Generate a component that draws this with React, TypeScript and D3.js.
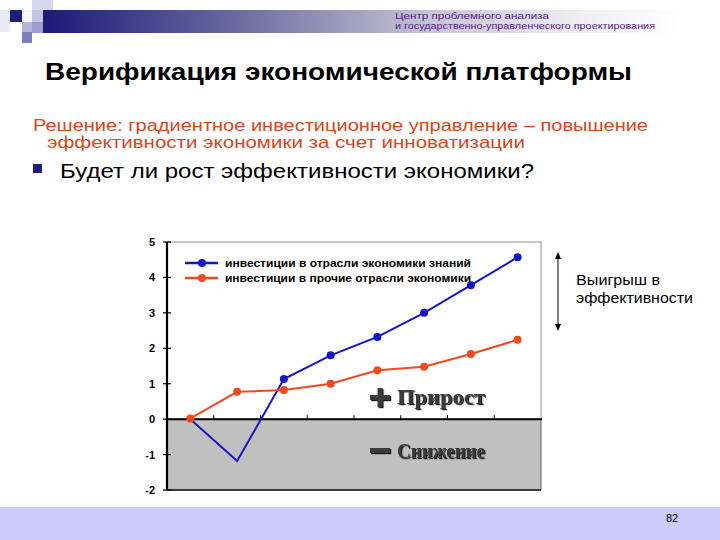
import React from "react";
import * as d3 from "d3";

// periods on the x axis (no labels shown on the slide)
const periods = ["1", "2", "3", "4", "5", "6", "7", "8"];
const knowledgeSeries = [0, -1.18, 1.13, 1.8, 2.32, 3.0, 3.78, 4.57];
const otherSeries = [0.02, 0.77, 0.82, 1.0, 1.38, 1.48, 1.84, 2.24];
const yTicks = [5, 4, 3, 2, 1, 0, -1, -2];
const seriesNames = [
  "инвестиции в отрасли экономики знаний",
  "инвестиции в прочие отрасли экономики",
];
const seriesColors = ["#1414c8", "#ee4a1e"];

const W = 720;
const H = 540;

export default function App() {
  const x = d3.scaleBand().domain(periods).range([167, 541]);
  const y = d3.scaleLinear().domain([-2, 5]).range([490, 242]);
  const line = d3
    .line<number>()
    .x((d, i) => x(periods[i])! + x.bandwidth() / 2)
    .y((d) => y(d));
  const all = [knowledgeSeries, otherSeries];
  const sans = "'Liberation Sans', Arial, sans-serif";
  const narrow = "'Liberation Sans Narrow', 'Liberation Sans', sans-serif";
  const serif = "'Liberation Serif', 'Times New Roman', serif";

  return (
    <svg
      width={W}
      height={H}
      style={{ position: "absolute", left: 0, top: 0, background: "#fff" }}
    >
      <defs>
        <linearGradient id="hdr" x1="0" x2="1" y1="0" y2="0">
          <stop offset="0" stopColor="#1a1a78" />
          <stop offset="0.3" stopColor="#6a6aa0" />
          <stop offset="0.6" stopColor="#c4c4d4" />
          <stop offset="0.85" stopColor="#f0f0f4" />
          <stop offset="1" stopColor="#ffffff" />
        </linearGradient>
        <filter id="shd" x="-10%" y="-10%" width="130%" height="140%">
          <feDropShadow dx="1.2" dy="1.2" stdDeviation="0.4" floodColor="#000" floodOpacity="0.9" />
        </filter>
      </defs>

      {/* header decoration */}
      <rect x={0} y={0} width={W} height={H} fill="#fff" />
      <rect x={43} y={10} width={640} height={23} fill="url(#hdr)" />
      <rect x={0} y={10} width={10} height={22} fill="#eaeaf6" />
      <rect x={32} y={0} width={21} height={10} fill="#d6d6ec" />
      <rect x={10} y={10} width={12} height={12} fill="#1c1c7c" />
      <rect x={22} y={10} width={10} height={12} fill="#f4f4fa" />
      <rect x={32} y={10} width={11} height={12} fill="#c4c4e0" />
      <rect x={22} y={22} width={10} height={10} fill="#b4b4d8" />
      <rect x={32} y={22} width={11} height={11} fill="#9c9cd0" />
      <rect x={22} y={32} width={10} height={11} fill="#7e7eb8" />
      <text x={395} y={19} fontFamily={narrow} fontSize={8.5} fill="#5a1a8c" textLength={154} lengthAdjust="spacingAndGlyphs">
        Центр проблемного анализа
      </text>
      <text x={395} y={28.5} fontFamily={narrow} fontSize={8.5} fill="#5a1a8c" textLength={260} lengthAdjust="spacingAndGlyphs">
        и государственно-управленческого проектирования
      </text>

      {/* title block */}
      <text x={45} y={80} fontFamily={sans} fontWeight="bold" fontSize={23} fill="#000" textLength={587} lengthAdjust="spacingAndGlyphs">
        Верификация экономической платформы
      </text>
      <text x={33} y={131} fontFamily={sans} fontSize={16} fill="#d8461a" textLength={615} lengthAdjust="spacingAndGlyphs">
        Решение: градиентное инвестиционное управление – повышение
      </text>
      <text x={47} y={148} fontFamily={sans} fontSize={16} fill="#d8461a" textLength={478} lengthAdjust="spacingAndGlyphs">
        эффективности экономики за счет инноватизации
      </text>
      <rect x={33} y={164} width={9} height={9} fill="#1c1c80" />
      <text x={60} y={178} fontFamily={sans} fontSize={20} fill="#000" textLength={474} lengthAdjust="spacingAndGlyphs">
        Будет ли рост эффективности экономики?
      </text>

      {/* plot area */}
      <rect x={167} y={y(5)} width={374} height={y(0) - y(5)} fill="#fff" stroke="#909090" strokeWidth={1} />
      <rect x={167} y={y(0)} width={374} height={y(-2) - y(0)} fill="#c0c0c0" />
      <line x1={541} x2={541} y1={y(0)} y2={y(-2)} stroke="#606060" />
      <line x1={167} x2={541} y1={y(-2)} y2={y(-2)} stroke="#000" strokeWidth={1.5} />
      <line x1={167} x2={542} y1={y(0)} y2={y(0)} stroke="#000" strokeWidth={2} />
      {periods.slice(1).map((p) => (
        <line key={p} x1={x(p)} x2={x(p)} y1={y(0)} y2={y(0) - 4} stroke="#000" strokeWidth={1} />
      ))}
      <line x1={167} x2={167} y1={y(5)} y2={y(-2)} stroke="#000" strokeWidth={2.2} />
      {yTicks.map((t) => (
        <g key={t}>
          <line x1={163} x2={171} y1={y(t)} y2={y(t)} stroke="#000" strokeWidth={1.2} />
          <text x={155} y={y(t) + 4} textAnchor="end" fontFamily={sans} fontWeight="bold" fontSize={11} fill="#000">
            {t}
          </text>
        </g>
      ))}

      {/* series */}
      {all.map((s, si) => (
        <g key={si}>
          <path d={line(s)!} fill="none" stroke={seriesColors[si]} strokeWidth={2} />
          {s.map((v, i) =>
            si === 0 && (i === 0 || i === 1) ? null : (
              <circle key={i} cx={x(periods[i])! + x.bandwidth() / 2} cy={y(v)} r={4} fill={seriesColors[si]} />
            )
          )}
        </g>
      ))}

      {/* legend */}
      {seriesNames.map((n, i) => (
        <g key={n}>
          <line x1={185} x2={218} y1={263 + i * 15} y2={263 + i * 15} stroke={seriesColors[i]} strokeWidth={2.5} />
          <circle cx={202} cy={263 + i * 15} r={4} fill={seriesColors[i]} />
          <text x={225} y={267 + i * 15} fontFamily={sans} fontWeight="bold" fontSize={10} fill="#000" textLength={246} lengthAdjust="spacingAndGlyphs">
            {n}
          </text>
        </g>
      ))}

      {/* plus / minus labels */}
      <g filter="url(#shd)" fill="#3a3a3a">
        <rect x={370} y={395} width={20} height={5} />
        <rect x={377.5} y={388} width={5} height={19} />
        <text x={397} y={404} fontFamily={serif} fontWeight="bold" fontSize={22} textLength={88} lengthAdjust="spacingAndGlyphs">
          Прирост
        </text>
        <rect x={370} y={448} width={20} height={5} />
        <text x={397} y={458} fontFamily={serif} fontWeight="bold" fontSize={22} textLength={88} lengthAdjust="spacingAndGlyphs">
          Снижение
        </text>
      </g>

      {/* efficiency gain arrow */}
      <line x1={558} x2={558} y1={258} y2={325} stroke="#000" strokeWidth={1} />
      <path d="M558,252 L555,259 L561,259 Z" fill="#000" />
      <path d="M558,331 L555,324 L561,324 Z" fill="#000" />
      <text x={576} y={285} fontFamily={sans} fontSize={14} fill="#000" textLength={84} lengthAdjust="spacingAndGlyphs">
        Выигрыш в
      </text>
      <text x={576} y={303} fontFamily={sans} fontSize={14} fill="#000" textLength={117} lengthAdjust="spacingAndGlyphs">
        эффективности
      </text>

      {/* footer */}
      <rect x={0} y={507} width={W} height={33} fill="#ccccf8" />
      <text x={666} y={522} fontFamily={sans} fontSize={11} fill="#000">
        82
      </text>
    </svg>
  );
}
